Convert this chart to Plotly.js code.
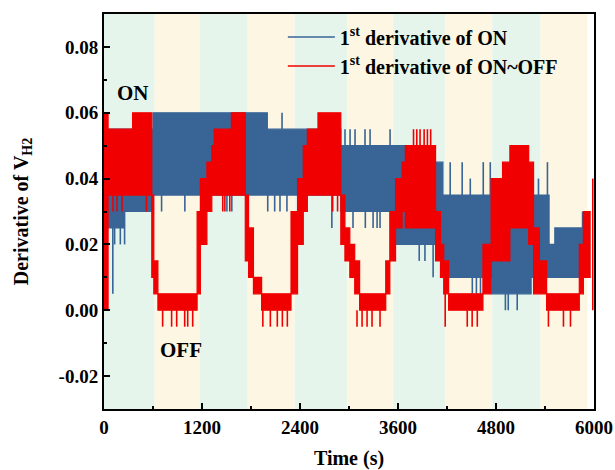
<!DOCTYPE html>
<html>
<head>
<meta charset="utf-8">
<script src="https://cdn.plot.ly/plotly-3.0.1.min.js"></script>
<style>
  html, body { margin: 0; padding: 0; background: #fff; }
  #chart { width: 615px; height: 470px; }
</style>
</head>
<body>
<div id="chart"></div>
<script>
// ON / OFF operating windows (s): shaded backgrounds alternate ON (green) and OFF (cream)
const bandEdges = [0, 620, 1170, 1760, 2335, 2975, 3540, 4175, 4755, 5345, 5920];
const bandColors = ['#e6f5ec', '#fdf6e2'];

// 1st derivative of ON: step envelope (start time, lower level, upper level); last entry closes the final step
const onT  = [0, 250, 600, 2000, 2900, 3550, 3700, 4150, 4750, 5230, 5450, 5520, 5880];
const onLo = [0.025, 0.03, 0.035, 0.035, 0.03, 0.02, 0.02, 0.01, 0.005, 0.01, 0.01, 0.01, 0.01];
const onHi = [0.055, 0.055, 0.06, 0.055, 0.05, 0.05, 0.045, 0.035, 0.025, 0.035, 0.02, 0.025, 0.025];

// 1st derivative of ON: isolated excursions (time, from, to)
const onSpikeT    = [108, 130, 200, 252, 705, 990, 1505, 1565, 2005, 2090, 2155, 2180, 2240, 2790,
                     2951, 3013, 3074, 3196, 3258, 3503, 3049, 3200, 3295, 3344, 3380,
                     3860, 3930, 4030, 4239, 4386, 4485, 4644, 4730, 4510, 4560, 4610,
                     4915, 4950, 5060, 5160, 5320, 5430, 5860];
const onSpikeFrom = [0.025, 0.025, 0.025, 0.03, 0.035, 0.035, 0.035, 0.035, 0.035, 0.035, 0.035, 0.055, 0.035, 0.035,
                     0.05, 0.05, 0.05, 0.05, 0.05, 0.05, 0.03, 0.03, 0.03, 0.03, 0.03,
                     0.02, 0.02, 0.02, 0.035, 0.035, 0.035, 0.035, 0.035, 0.01, 0.01, 0.01,
                     0.005, 0.005, 0.005, 0.025, 0.035, 0.035, 0.025];
const onSpikeTo   = [0.005, 0.02, 0.02, 0.02, 0.03, 0.03, 0.03, 0.03, 0.03, 0.03, 0.03, 0.06, 0.03, 0.025,
                     0.055, 0.055, 0.055, 0.055, 0.055, 0.055, 0.025, 0.025, 0.025, 0.025, 0.025,
                     0.015, 0.015, 0.01, 0.045, 0.045, 0.04, 0.045, 0.045, 0.005, 0.005, 0.005,
                     0.0, 0.0, 0.0, 0.03, 0.04, 0.045, 0.03];

// 1st derivative of ON~OFF: step envelope (start time, lower level, upper level); last entry closes the final step
const onoffT  = [0, 50, 350, 585, 610, 660, 1140, 1180, 1260, 1320, 1350, 1560, 1730, 1770, 1830, 1930,
                 2290, 2370, 2440, 2490, 2620, 2900, 2950, 3010, 3070, 3130, 3450, 3500, 3570, 3650,
                 3690, 4060, 4120, 4160, 4220, 4640, 4740, 4880, 4970, 5200, 5260, 5330, 5420, 5820,
                 5870, 5960];
const onoffLo = [0, 0.035, 0.035, 0.01, 0.005, 0, 0.005, 0.02, 0.03, 0.035, 0.035, 0.035, 0.015, 0.01, 0.005, 0,
                 0.005, 0.02, 0.03, 0.035, 0.035, 0.02, 0.015, 0.01, 0.005, 0, 0.005, 0.015, 0.025, 0.03,
                 0.025, 0.015, 0.01, 0.005, 0, 0.005, 0.015, 0.015, 0.025, 0.02, 0.005, 0.005, 0, 0.005,
                 0.01, 0.01];
const onoffHi = [0.06, 0.055, 0.06, 0.035, 0.015, 0.005, 0.03, 0.04, 0.045, 0.05, 0.055, 0.06, 0.035, 0.025, 0.01, 0.005,
                 0.03, 0.04, 0.05, 0.055, 0.06, 0.035, 0.025, 0.02, 0.015, 0.005, 0.015, 0.03, 0.04, 0.045,
                 0.05, 0.03, 0.02, 0.015, 0.005, 0.02, 0.04, 0.045, 0.05, 0.045, 0.025, 0.015, 0.005, 0.02,
                 0.03, 0.03];

// 1st derivative of ON~OFF: isolated excursions (time, from, to)
const onoffSpikeT    = [110, 160, 220, 520, 718, 828, 890, 988, 1025, 1086, 1454, 1480, 1540,
                        1945, 2037, 2122, 2184, 2245, 2800, 2860, 3098, 3160, 3221, 3282, 3380,
                        3790, 3830, 3870, 3920, 3960, 4000, 4178, 4448, 4508, 4571,
                        5442, 5626, 5712, 5985];
const onoffSpikeFrom = [0.035, 0.035, 0.035, 0.035, 0, 0, 0, 0, 0, 0, 0.035, 0.035, 0.035,
                        0, 0, 0, 0, 0, 0.035, 0.035, 0, 0, 0, 0, 0,
                        0.05, 0.05, 0.05, 0.05, 0.05, 0.05, 0.01, 0, 0, 0,
                        0, 0, 0, 0];
const onoffSpikeTo   = [0.03, 0.03, 0.03, 0.03, -0.005, -0.005, -0.005, -0.005, -0.005, -0.005, 0.03, 0.03, 0.03,
                        -0.005, -0.005, -0.005, -0.005, -0.005, 0.03, 0.03, -0.005, -0.005, -0.005, -0.005, -0.005,
                        0.055, 0.055, 0.055, 0.055, 0.055, 0.055, -0.005, -0.005, -0.005, -0.005,
                        -0.005, -0.005, -0.005, 0.04];

// Axis ticks
const xTicks = [0, 1200, 2400, 3600, 4800, 6000];
const yTicks = [-0.02, 0, 0.02, 0.04, 0.06, 0.08];
const yTickText = ['-0.02', '0.00', '0.02', '0.04', '0.06', '0.08'];

const BLUE = '#386496';
const RED = '#f00000';
const FONT = '"Liberation Serif", "Times New Roman", serif';

// Expand a step series into corner points so the fill follows the steps exactly
function stepPath(t, v) {
  const xs = [], ys = [];
  for (let i = 0; i < t.length - 1; i++) {
    xs.push(t[i], t[i + 1]);
    ys.push(v[i], v[i]);
  }
  return { xs, ys };
}

function envelope(t, lo, hi, color, group) {
  const a = stepPath(t, lo), b = stepPath(t, hi);
  return [
    { x: a.xs, y: a.ys, type: 'scatter', mode: 'lines', line: { color: color, width: 1.2 },
      showlegend: false, hoverinfo: 'skip', legendgroup: group },
    { x: b.xs, y: b.ys, type: 'scatter', mode: 'lines', line: { color: color, width: 1.2 },
      fill: 'tonexty', fillcolor: color, showlegend: false, hoverinfo: 'skip', legendgroup: group }
  ];
}

function spikes(t, from, to, color, name, group) {
  const xs = [], ys = [];
  t.forEach((v, i) => { xs.push(v, v, null); ys.push(from[i], to[i], null); });
  return { x: xs, y: ys, type: 'scatter', mode: 'lines', name: name, legendgroup: group,
           line: { color: color, width: 1.6 }, connectgaps: false, hoverinfo: 'skip' };
}

const traces = [
  ...envelope(onT, onLo, onHi, BLUE, 'on'),
  spikes(onSpikeT, onSpikeFrom, onSpikeTo, BLUE, '1<sup>st</sup> derivative of ON', 'on'),
  ...envelope(onoffT, onoffLo, onoffHi, RED, 'onoff'),
  spikes(onoffSpikeT, onoffSpikeFrom, onoffSpikeTo, RED, '1<sup>st</sup> derivative of ON~OFF', 'onoff')
];

const shapes = [];
for (let i = 0; i < bandEdges.length - 1; i++) {
  shapes.push({ type: 'rect', xref: 'x', yref: 'paper', x0: bandEdges[i], x1: bandEdges[i + 1],
                y0: 0, y1: 1, fillcolor: bandColors[i % 2], line: { width: 0 }, layer: 'below' });
}

const layout = {
  width: 615, height: 470,
  margin: { l: 104, r: 21, t: 14, b: 61 },
  paper_bgcolor: '#ffffff', plot_bgcolor: '#ffffff',
  font: { family: FONT, size: 19, color: '#000', weight: 'bold' },
  showlegend: true,
  legend: { x: 0.365, y: 0.991, xanchor: 'left', yanchor: 'top', bgcolor: 'rgba(0,0,0,0)',
            itemwidth: 47, font: { family: FONT, size: 20, weight: 'bold' }, tracegroupgap: 0 },
  xaxis: {
    range: [0, 6000], tickmode: 'array', tickvals: xTicks, ticktext: xTicks.map(String),
    ticks: 'inside', ticklen: 6, tickwidth: 2, tickcolor: '#000',
    minor: { tickmode: 'linear', tick0: 0, dtick: 600, ticks: 'inside', ticklen: 3, tickwidth: 2, tickcolor: '#000' },
    showline: true, linewidth: 2, linecolor: '#000', mirror: true, showgrid: false, zeroline: false,
    title: { text: 'Time (s)', font: { family: FONT, size: 20, weight: 'bold' }, standoff: 15 },
    tickfont: { family: FONT, size: 19, weight: 'bold' }
  },
  yaxis: {
    range: [-0.03, 0.09], tickmode: 'array', tickvals: yTicks, ticktext: yTickText,
    ticks: 'inside', ticklen: 6, tickwidth: 2, tickcolor: '#000',
    minor: { tickmode: 'linear', tick0: 0, dtick: 0.01, ticks: 'inside', ticklen: 3, tickwidth: 2, tickcolor: '#000' },
    showline: true, linewidth: 2, linecolor: '#000', mirror: true, showgrid: false, zeroline: false,
    title: { text: 'Derivative of V<sub>H2</sub>', font: { family: FONT, size: 20, weight: 'bold' }, standoff: 25 },
    tickfont: { family: FONT, size: 19, weight: 'bold' }
  },
  shapes: shapes,
  annotations: [
    { x: 350, y: 0.066, xref: 'x', yref: 'y', text: 'ON', showarrow: false,
      font: { family: FONT, size: 21, weight: 'bold', color: '#000' } },
    { x: 940, y: -0.012, xref: 'x', yref: 'y', text: 'OFF', showarrow: false,
      font: { family: FONT, size: 21, weight: 'bold', color: '#000' } }
  ]
};

Plotly.newPlot('chart', traces, layout, { displayModeBar: false, staticPlot: true });
</script>
</body>
</html>
